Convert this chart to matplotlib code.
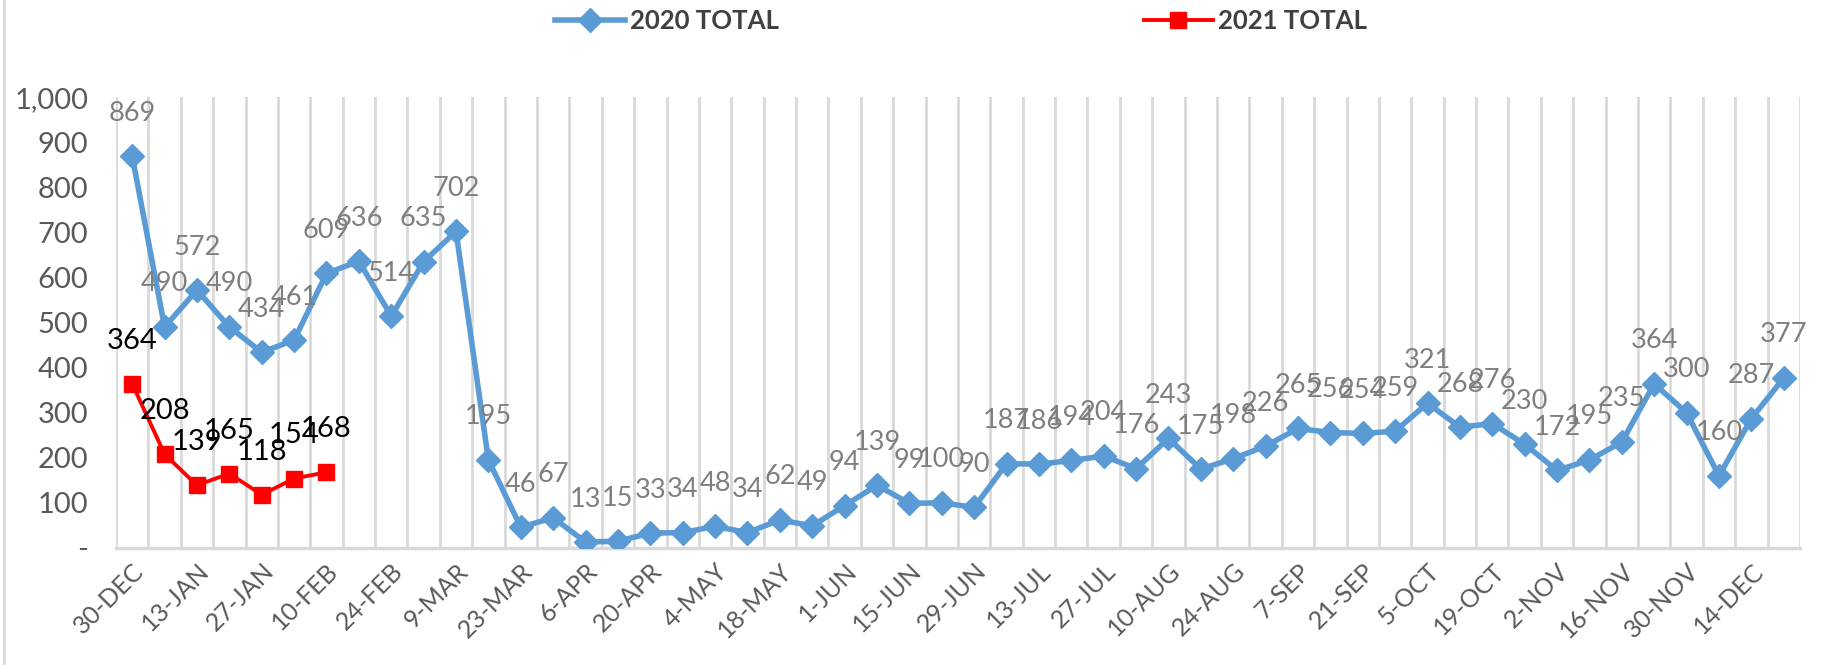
import matplotlib.pyplot as plt
from matplotlib.lines import Line2D
from matplotlib.ticker import FuncFormatter

# weekly categories (week starting)
weeks = ['30-DEC', '6-JAN', '13-JAN', '20-JAN', '27-JAN', '3-FEB', '10-FEB', '17-FEB',
         '24-FEB', '2-MAR', '9-MAR', '16-MAR', '23-MAR', '30-MAR', '6-APR', '13-APR',
         '20-APR', '27-APR', '4-MAY', '11-MAY', '18-MAY', '25-MAY', '1-JUN', '8-JUN',
         '15-JUN', '22-JUN', '29-JUN', '6-JUL', '13-JUL', '20-JUL', '27-JUL', '3-AUG',
         '10-AUG', '17-AUG', '24-AUG', '31-AUG', '7-SEP', '14-SEP', '21-SEP', '28-SEP',
         '5-OCT', '12-OCT', '19-OCT', '26-OCT', '2-NOV', '9-NOV', '16-NOV', '23-NOV',
         '30-NOV', '7-DEC', '14-DEC', '21-DEC']

total_2020 = [869, 490, 572, 490, 434, 461, 609, 636, 514, 635,
              702, 195, 46, 67, 13, 15, 33, 34, 48, 34,
              62, 49, 94, 139, 99, 100, 90, 187, 186, 194,
              204, 176, 243, 175, 198, 226, 265, 256, 254, 259,
              321, 268, 276, 230, 172, 195, 235, 364, 300, 160,
              287, 377]
total_2021 = [364, 208, 139, 165, 118, 154, 168]

plt.rcParams['font.family'] = ['Lato', 'DejaVu Sans']

blue = '#5B9BD5'
red = '#FF0000'
grid_col = '#D9D9D9'
txt_col = '#595959'

fig = plt.figure(figsize=(18.24, 6.65), dpi=100)
ax = fig.add_axes([0.0636, 0.176, 0.9232, 0.678])

x20 = list(range(len(total_2020)))
x21 = list(range(len(total_2021)))

ax.plot(x20, total_2020, color=blue, lw=4, marker='D', ms=12, zorder=3,
        label='2020 TOTAL')
ax.plot(x21, total_2021, color=red, lw=2.8, marker='s', ms=11, zorder=4,
        label='2021 TOTAL')

# data labels
for x, v in zip(x20, total_2020):
    ax.annotate(str(v), (x, v), xytext=(0, 31), textcoords='offset points',
                ha='center', va='center', fontsize=19.5, color='#7F7F7F', zorder=5)
for x, v in zip(x21, total_2021):
    ax.annotate(str(v), (x, v), xytext=(0, 31), textcoords='offset points',
                ha='center', va='center', fontsize=21, color='black', zorder=6)

ax.set_xlim(-0.5, len(weeks) - 0.5)
ax.set_ylim(0, 1000)
ax.set_yticks(range(0, 1001, 100))
ax.yaxis.set_major_formatter(FuncFormatter(lambda v, p: '-' if v == 0 else f'{int(v):,}'))

ax.set_xticks(x20[::2])
ax.set_xticklabels(weeks[::2], rotation=45, ha='right', rotation_mode='anchor')
ax.set_xticks([i - 0.5 for i in range(len(weeks) + 1)], minor=True)
ax.grid(which='minor', axis='x', color=grid_col, lw=2)
ax.tick_params(axis='both', which='both', length=0)
ax.tick_params(axis='y', labelsize=21, labelcolor=txt_col, pad=20)
ax.tick_params(axis='x', labelsize=18, labelcolor=txt_col, pad=8)

for s in ['top', 'right', 'left']:
    ax.spines[s].set_visible(False)
ax.spines['bottom'].set_color(grid_col)
ax.spines['bottom'].set_linewidth(2.5)

leg = fig.legend(loc='center', bbox_to_anchor=(0.527, 0.968), ncol=2, frameon=False,
                 prop={'size': 18.5, 'weight': 'bold'}, columnspacing=14.2,
                 handlelength=2.7, handletextpad=0.2)
for t in leg.get_texts():
    t.set_color('#404040')

# thin frame line on the left edge
fig.add_artist(Line2D([0.002, 0.002], [0, 1], transform=fig.transFigure,
                      color=grid_col, lw=2))

fig.savefig('out.png', dpi=100)
